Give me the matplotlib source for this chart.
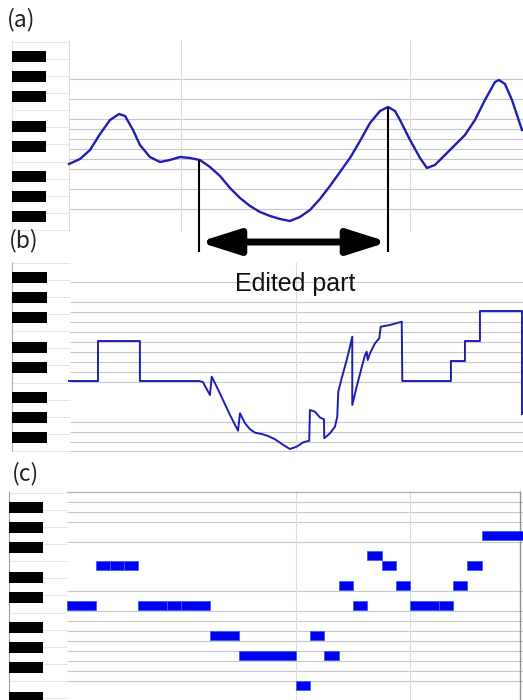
import matplotlib.pyplot as plt
import numpy as np

# time in 16th-note steps, pitch in MIDI note numbers

# (a) original pitch curve
orig_t = [0.14, 0.91, 1.61, 2.31, 3.01, 3.64, 4.06, 4.62, 5.10, 5.80,
          6.50, 7.20, 7.90, 8.60, 9.30, 10.0, 10.70, 11.40, 12.10, 12.80,
          13.50, 14.20, 14.90, 15.59, 16.29, 16.99, 17.69, 18.39, 19.09, 19.79,
          20.49, 21.19, 21.89, 22.45, 22.94, 23.29, 23.99, 24.69, 25.17, 25.73,
          26.43, 27.13, 27.83, 28.53, 29.23, 29.93, 30.21, 30.63, 31.12, 31.82]
orig_p = [71.25, 71.75, 72.65, 74.25, 75.65, 76.25, 76.05, 74.65, 73.15, 71.95,
          71.45, 71.65, 71.95, 71.85, 71.65, 70.95, 70.05, 68.85, 67.85, 67.05,
          66.45, 66.05, 65.75, 65.55, 65.95, 66.65, 67.75, 69.05, 70.45, 71.85,
          73.55, 75.35, 76.55, 76.95, 76.55, 75.65, 73.65, 71.85, 70.85, 71.15,
          72.15, 73.15, 74.15, 75.65, 77.65, 79.45, 79.65, 79.25, 77.65, 74.65]

# (b) edited pitch curve
edit_t = [0.14, 2.17, 2.17, 5.10, 5.10, 9.23, 9.51, 9.65, 10.0, 10.12,
          10.47, 10.91, 11.40, 11.96, 12.10, 12.45, 12.80, 13.15, 13.62, 14.06,
          14.55, 15.13, 15.59, 16.06, 16.52, 16.94, 16.99, 17.34, 17.69, 17.97,
          17.99, 18.39, 18.74, 18.90, 18.97, 19.21, 19.56, 19.79, 19.95, 19.95,
          20.26, 20.61, 20.84, 20.96, 21.03, 21.19, 21.54, 21.84, 21.94, 22.59,
          23.41, 23.45, 26.85, 26.85, 27.83, 27.83, 28.88, 28.88, 31.82, 31.82]
edit_p = [72.0, 72.0, 76.0, 76.0, 72.0, 72.0, 71.9, 71.5, 70.6, 72.43,
          71.43, 70.1, 68.6, 67.03, 68.77, 67.77, 67.17, 66.83, 66.7, 66.5,
          66.17, 65.6, 65.2, 65.43, 65.87, 66.03, 69.1, 68.93, 68.35, 68.17,
          66.27, 66.77, 67.43, 68.43, 70.93, 72.27, 74.1, 75.43, 76.43, 69.6,
          71.43, 73.37, 74.6, 74.93, 74.1, 74.77, 75.77, 76.27, 77.43, 77.6,
          77.93, 72.0, 72.0, 74.0, 74.0, 76.0, 76.0, 79.0, 79.0, 68.7]

# (c) notes
note_start = [0, 2, 3, 4, 5, 7, 8, 10, 12, 16, 17, 18, 19, 20, 21, 22, 23, 24, 26, 27, 28, 29]
note_len = [2, 1, 1, 1, 2, 1, 2, 2, 4, 1, 1, 1, 1, 1, 1, 1, 1, 2, 1, 1, 1, 3]
note_pitch = [72, 76, 76, 76, 72, 72, 72, 69, 67, 64, 69, 67, 74, 72, 77, 76, 74, 72, 72, 74, 76, 79]

black_keys = [63, 66, 68, 70, 73, 75, 78, 80, 82]

grid_a = [79.75, 77.75, 75.75, 74.75, 73.75, 72.75, 71.75, 70.75, 68.75, 66.75]
grid_b = [81.9, 79.9, 78.9, 77.9, 76.9, 75.9, 74.9, 73.9, 72.9, 71.9, 67.9, 66.9, 65.9, 65.0]
grid_c = [82.35, 81.35, 80.35, 78.35, 73.45, 71.45, 70.45, 69.45, 68.45, 67.45,
          66.45, 65.45, 64.45]

edit_from, edit_to = 9.23, 22.45

x_lo, x_hi = -4.685, 31.89
blue = '#1e1eb4'

fig = plt.figure(figsize=(5.23, 7.0), dpi=100)


def panel(rect, ylim, grid, vgrid, key_left, key_w, key_shift, grid_left, border):
    ax = fig.add_axes(rect)
    ax.set_xlim(x_lo, x_hi)
    ax.set_ylim(*ylim)
    ax.axis('off')
    ax.patch.set_visible(False)
    # white key edges of the keyboard
    edges = [c - 0.5 + k * 12 / 7 + key_shift for c in (48, 60, 72, 84) for k in range(7)]
    edges = [e for e in edges if ylim[0] < e < ylim[1]]
    ax.hlines(edges, key_left, grid_left, color='#e6e6e6', lw=0.7, zorder=1)
    ax.hlines(grid, grid_left, x_hi, color='#c8c8c8', lw=0.8, zorder=1)
    ax.vlines(vgrid, ylim[0], ylim[1], color='#dcdcdc', lw=0.8, zorder=1)
    ax.vlines(key_left, ylim[0], ylim[1], color=border, lw=0.8, zorder=1)
    keys = [k + key_shift for k in black_keys]
    ax.barh(keys, key_w, height=1.15, left=key_left, color='black', zorder=2)
    return ax


# (a)
ax = panel([0, 1 - 232 / 700, 1, 192 / 700], (64.45, 83.65), grid_a, [0.14, 8, 24],
           -3.85, 2.38, 0.0, 0.14, '#e6e6e6')
ax.plot(orig_t, orig_p, color=blue, lw=1.7, zorder=3)
p_from = np.interp(edit_from, orig_t, orig_p)
p_to = np.interp(edit_to, orig_t, orig_p)
ax.vlines([edit_from, edit_to], 62.5, [p_from, p_to], color='black', lw=1.5, clip_on=False, zorder=4)
ax.annotate('', xy=(edit_to, 63.45), xytext=(edit_from, 63.45), annotation_clip=False,
            arrowprops=dict(arrowstyle='<|-|>,head_length=1.2,head_width=0.38',
                            mutation_scale=20, lw=5, color='black',
                            shrinkA=0, shrinkB=0))

# (b)
ax = panel([0, 1 - 452 / 700, 1, 190 / 700], (64.9, 83.9), grid_b, [16],
           -3.85, 2.45, 0.35, 0.2, '#b0b0b0')
ax.plot(edit_t, edit_p, color=blue, lw=1.4, zorder=3)

# (c)
ax = panel([0, 0, 1, 209 / 700], (62.55, 83.45), grid_c, [16, 24],
           -4.06, 2.38, -0.2, 0.0, '#a0a0a0')
ax.hlines(83.4, 0, 31.68, color='#b4b4b4', lw=1.0)
ax.vlines(31.68, 62.55, 83.45, color='#909090', lw=1.0)
ax.barh(note_pitch, note_len, height=0.95, left=note_start, color='#0000f0',
        edgecolor='#3a5cff', lw=0.6, zorder=3)

label_font = ['Noto Sans CJK JP', 'DejaVu Sans']
fig.text(7 / 523, 1 - 8 / 700, '(a)', va='top', fontsize=16.5, family=label_font, color='#222222')
fig.text(9 / 523, 1 - 229 / 700, '(b)', va='top', fontsize=16.5, family=label_font, color='#222222')
fig.text(12 / 523, 1 - 462 / 700, '(c)', va='top', fontsize=16.5, family=label_font, color='#222222')
fig.text(295 / 523, 1 - 291 / 700, 'Edited part', ha='center', va='baseline',
         fontsize=18, family='Liberation Sans', color='#111111')

fig.savefig('out.png', dpi=100)
